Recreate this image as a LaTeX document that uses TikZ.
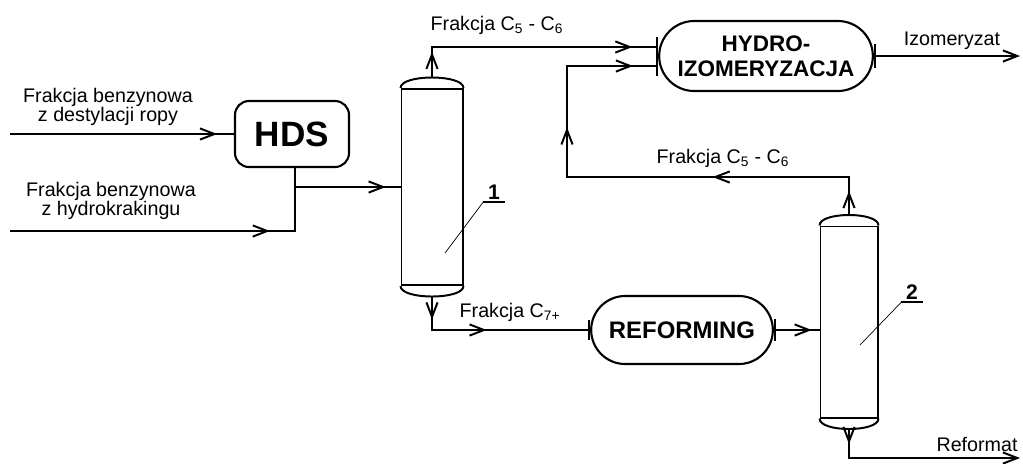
\documentclass[tikz,border=0pt]{standalone}
\usepackage{fontspec}
\setmainfont{Liberation Sans}
\usetikzlibrary{positioning, arrows.meta, calc, shapes.misc, decorations.markings}

\tikzset{/pgf/decoration/tip at/.style={mark=at position #1 with {\arrow{>}}}}

\begin{document}
\begin{tikzpicture}[
  x=0.025cm, y=-0.025cm,
  line width=1.4pt,
  >={Straight Barb[length=3.6mm, width=2.8mm]},
  every node/.style={font=\fontsize{14}{13.5}\selectfont},
  unit/.style={draw, rounded rectangle, line width=1.5pt, font=\fontsize{17}{18}\selectfont\bfseries},
  hdsbox/.style={draw, rectangle, rounded corners=0.35cm, line width=1.5pt, font=\fontsize{25}{30}\selectfont\bfseries},
  column/.style={draw, rectangle, inner sep=0pt},
  flow/.style={postaction={decorate}, decoration={markings, #1}},
  tick/.style={-{Bar[width=5mm]}},
  tag/.style={font=\fontsize{15}{16}\selectfont\bfseries, inner sep=1.5pt, minimum width=0.5cm},
  leader/.style={line width=0.5pt}
]
  \useasboundingbox (0,0) rectangle (1023,463);

  % units
  \node[hdsbox, minimum width=2.85cm, minimum height=1.65cm] (hds) at (292,134) {HDS};
  \node[column, minimum width=1.525cm, minimum height=4.9cm] (col1) at (432,187) {};
  \node[column, minimum width=1.425cm, minimum height=4.775cm] (col2) at (849,322) {};
  \node[unit, minimum width=5.575cm, minimum height=1.75cm, align=center,
        font=\fontsize{16}{18}\selectfont\bfseries] (hydro) at (766,56) {HYDRO-\\IZOMERYZACJA};
  \node[unit, minimum width=4.775cm, minimum height=1.7cm] (ref) at (682,330) {REFORMING};

  % column heads
  \foreach \col in {col1, col2} {
    \draw (\col.north west) .. controls +(0,-14) and +(0,-14) .. (\col.north east);
    \draw (\col.south west) .. controls +(0,14) and +(0,14) .. (\col.south east);
  }
  \coordinate (c1top) at ($(col1.north)+(0,-10.5)$);
  \coordinate (c1bot) at ($(col1.south)+(0,10.5)$);
  \coordinate (c2top) at ($(col2.north)+(0,-10.5)$);
  \coordinate (c2bot) at ($(col2.south)+(0,10.5)$);

  % free ends
  \coordinate (in1) at (10,134);
  \coordinate (in2) at (10,231);
  \coordinate (jn) at (295,187);
  \coordinate (back) at (567,177);
  \coordinate (izo) at (1020,56);
  \coordinate (refo) at (1020,458);
  \coordinate (p1) at (445,253);
  \coordinate (p2) at (860,345);

  % streams
  \draw[flow={tip at=0.925}] (in1) -- (hds.west);
  \draw[flow={tip at=0.79}] (in2) -| (jn);
  \draw (jn) -- (jn |- hds.south);
  \draw[flow={tip at=0.86}] (jn) -- (col1.west);
  \draw[tick, flow={tip at=0.10, tip at=0.90}] (c1top) |- ($(hydro.west)+(0,-9)$);
  \draw[tick, flow={tip at=0.12, tip at=0.46}] (c1bot) |- (ref.west);
  \draw[{Bar[width=5.5mm]}-, flow={tip at=0.83}] (ref.east) -- (ref.east -| col2.west);
  \draw[tick, flow={tip at=0.046, tip at=0.334, tip at=0.708, tip at=0.952}]
    (c2top) |- (back) |- ($(hydro.west)+(0,10)$);
  \draw[{Bar[width=6mm]}->] (hydro.east) -- (izo);
  \draw[->, flow={tip at=0.075}] (c2bot) |- (refo);

  % labels
  \node[align=center] (lin1) at (108,107) {Frakcja benzynowa\\z destylacji ropy};
  \node[align=center] (lin2) at (111,201) {Frakcja benzynowa\\z hydrokrakingu};
  \node[anchor=base] (lc56a) at (497,30) {Frakcja C\textsubscript{5} - C\textsubscript{6}};
  \node[anchor=base] (lc56b) at (723,163) {Frakcja C\textsubscript{5} - C\textsubscript{6}};
  \node[anchor=base] (lc7) at (510,317) {Frakcja C\textsubscript{7+}};
  \node[anchor=base] (lizo) at (952,45) {Izomeryzat};
  \node[anchor=base] (lref) at (977,451) {Reformat};

  % column numbers
  \node[tag] (t1) at (494,192) {1};
  \draw (t1.south west) -- (t1.south east);
  \draw[leader] (t1.south west) -- (p1);
  \node[tag] (t2) at (912,292) {2};
  \draw (t2.south west) -- (t2.south east);
  \draw[leader] (t2.south west) -- (p2);
\end{tikzpicture}
\end{document}
